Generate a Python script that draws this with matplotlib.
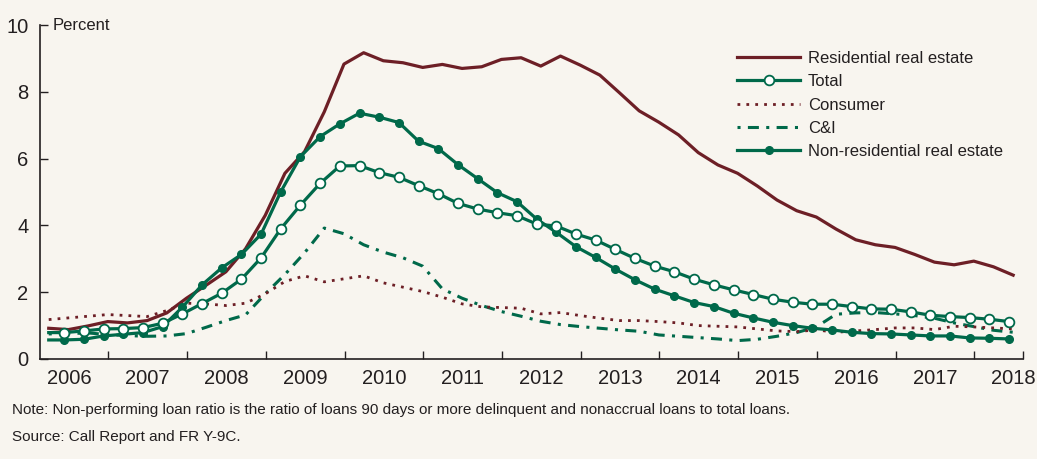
import numpy as np
import matplotlib
matplotlib.use("Agg")
import matplotlib.pyplot as plt
from matplotlib.legend_handler import HandlerLine2D

plt.rcParams['font.family'] = ['Liberation Sans Narrow', 'Liberation Sans', 'DejaVu Sans']

# Quarterly non-performing loan ratios (percent)
residential = [0.92, 0.88, 0.99, 1.12, 1.08, 1.15, 1.38, 1.82, 2.21, 2.61,
               3.30, 4.30, 5.56, 6.21, 7.40, 8.83, 9.17, 8.93, 8.87, 8.73,
               8.82, 8.70, 8.75, 8.97, 9.02, 8.77, 9.07, 8.80, 8.50, 7.97,
               7.43, 7.09, 6.71, 6.18, 5.81, 5.56, 5.18, 4.76, 4.44, 4.25,
               3.89, 3.57, 3.42, 3.34, 3.13, 2.90, 2.82, 2.93, 2.76, 2.51]
consumer = [1.18, 1.23, 1.28, 1.33, 1.30, 1.27, 1.45, 1.67, 1.65, 1.60,
            1.67, 1.95, 2.32, 2.49, 2.31, 2.40, 2.49, 2.28, 2.15, 2.02,
            1.85, 1.65, 1.56, 1.54, 1.52, 1.35, 1.39, 1.30, 1.22, 1.15,
            1.15, 1.12, 1.08, 1.00, 0.98, 0.96, 0.90, 0.84, 0.82, 0.87,
            0.80, 0.84, 0.88, 0.93, 0.93, 0.88, 0.98, 0.96, 0.93, 0.90]
cni = [0.75, 0.76, 0.78, 0.73, 0.70, 0.68, 0.69, 0.76, 0.95, 1.15,
       1.32, 1.95, 2.53, 3.18, 3.92, 3.75, 3.42, 3.20, 3.03, 2.78,
       2.10, 1.82, 1.60, 1.42, 1.28, 1.13, 1.03, 0.97, 0.92, 0.87,
       0.83, 0.72, 0.68, 0.64, 0.60, 0.55, 0.59, 0.68, 0.79, 0.96,
       1.34, 1.38, 1.39, 1.35, 1.30, 1.22, 1.08, 0.97, 0.86, 0.80]
total = [0.79, 0.84, 0.90, 0.91, 0.94, 1.07, 1.35, 1.66, 1.97, 2.39,
         3.03, 3.90, 4.61, 5.26, 5.78, 5.79, 5.58, 5.44, 5.19, 4.95,
         4.66, 4.49, 4.38, 4.29, 4.04, 3.98, 3.74, 3.56, 3.28, 3.01,
         2.78, 2.61, 2.39, 2.22, 2.07, 1.93, 1.79, 1.70, 1.64, 1.64,
         1.57, 1.50, 1.49, 1.41, 1.31, 1.27, 1.24, 1.19, 1.12]
nonres = [0.57, 0.59, 0.69, 0.74, 0.79, 0.97, 1.55, 2.22, 2.73, 3.13,
          3.74, 5.01, 6.06, 6.66, 7.04, 7.36, 7.24, 7.08, 6.52, 6.30,
          5.82, 5.40, 4.98, 4.71, 4.19, 3.79, 3.36, 3.04, 2.69, 2.37,
          2.09, 1.89, 1.69, 1.57, 1.37, 1.23, 1.10, 1.00, 0.92, 0.87,
          0.80, 0.76, 0.75, 0.72, 0.69, 0.69, 0.63, 0.62, 0.60]
years = list(range(2006, 2019))

x_line = 2006.243 + 0.25 * np.arange(len(residential))
x_mark = 2006.441 + 0.25 * np.arange(len(total))

RED = '#6d1f26'
GREEN = '#00694a'
BG = '#f8f5ef'
INK = '#231f20'
CNI_DASH = (0, (1, 2.4, 3.6, 2.4))
CON_DOT = (0, (1.0, 2.2))

fig = plt.figure(figsize=(10.37, 4.59), dpi=100, facecolor=BG)
ax = fig.add_axes([0.0381, 0.2179, 0.9487, 0.7276], facecolor=BG)

ax.plot(x_line, cni, color=GREEN, lw=2.2, linestyle=CNI_DASH, zorder=2)
ax.plot(x_line, consumer, color=RED, lw=2.0, linestyle=CON_DOT, zorder=2)
ax.plot(x_line, residential, color=RED, lw=2.3, zorder=3)
ax.plot(np.r_[x_line[0], x_mark], [nonres[0]] + nonres, color=GREEN, lw=2.3, zorder=4)
ax.plot(x_mark, nonres, 'o', color=GREEN, ms=5.5, zorder=4)
ax.plot(np.r_[x_line[0], x_mark], [total[0]] + total, color=GREEN, lw=2.3, zorder=5)
ax.plot(x_mark, total, 'o', mfc='white', mec=GREEN, mew=1.3, ms=7, zorder=5)

ax.set_xlim(2006.126, 2018.622)
ax.set_ylim(0, 10)
ax.set_xticks(years[1:] + [2018.622])
ax.set_xticks([y + 0.5 for y in years], minor=True)
ax.set_xticklabels([])
ax.set_xticklabels([str(y) for y in years], minor=True)
ax.tick_params(axis='x', which='major', direction='in', length=6, width=1, color=INK)
ax.tick_params(axis='x', which='minor', length=0, pad=7, labelsize=14.5, labelcolor=INK)
ax.set_yticks([0, 2, 4, 6, 8, 10])
ax.tick_params(axis='y', direction='in', length=6, width=1, color=INK,
               pad=8, labelsize=14.5, labelcolor=INK)
for s in ['top', 'right']:
    ax.spines[s].set_visible(False)
for s in ['left', 'bottom']:
    ax.spines[s].set_color(INK)
    ax.spines[s].set_linewidth(1.2)

ax.text(0.013, 1.0, 'Percent', transform=ax.transAxes, fontsize=12,
        color=INK, va='center', ha='left')


class LeftMarker(HandlerLine2D):
    def get_xdata(self, legend, xdescent, ydescent, width, height, fontsize):
        xdata = np.linspace(-xdescent, width - xdescent, 2)
        return xdata, [-xdescent + 3.5]


h_res = plt.Line2D([], [], color=RED, lw=2.3)
h_tot = plt.Line2D([], [], color=GREEN, lw=2.3, marker='o', mfc='white', mec=GREEN, mew=1.3, ms=7)
h_con = plt.Line2D([], [], color=RED, lw=2.0, linestyle=CON_DOT)
h_cni = plt.Line2D([], [], color=GREEN, lw=2.2, linestyle=CNI_DASH)
h_non = plt.Line2D([], [], color=GREEN, lw=2.3, marker='o', ms=5.5)
leg = ax.legend([h_res, h_tot, h_con, h_cni, h_non],
                ['Residential real estate', 'Total', 'Consumer', 'C&I',
                 'Non-residential real estate'],
                loc='upper left', bbox_to_anchor=(737 / 1037, 1 - 51 / 459),
                bbox_transform=fig.transFigure, frameon=False, fontsize=12,
                handlelength=3.8, handletextpad=0.45, labelspacing=0.50,
                borderpad=0, borderaxespad=0,
                handler_map={h_tot: LeftMarker(), h_non: LeftMarker()})
for t in leg.get_texts():
    t.set_color(INK)

fig.text(12 / 1037, 1 - 410 / 459, 'Note: Non-performing loan ratio is the ratio of loans 90 days '
         'or more delinquent and nonaccrual loans to total loans.',
         fontsize=11, color=INK, va='center', ha='left')
fig.text(12 / 1037, 1 - 437 / 459, 'Source: Call Report and FR Y-9C.',
         fontsize=11, color=INK, va='center', ha='left')

fig.savefig('out.png', dpi=100, facecolor=BG)
